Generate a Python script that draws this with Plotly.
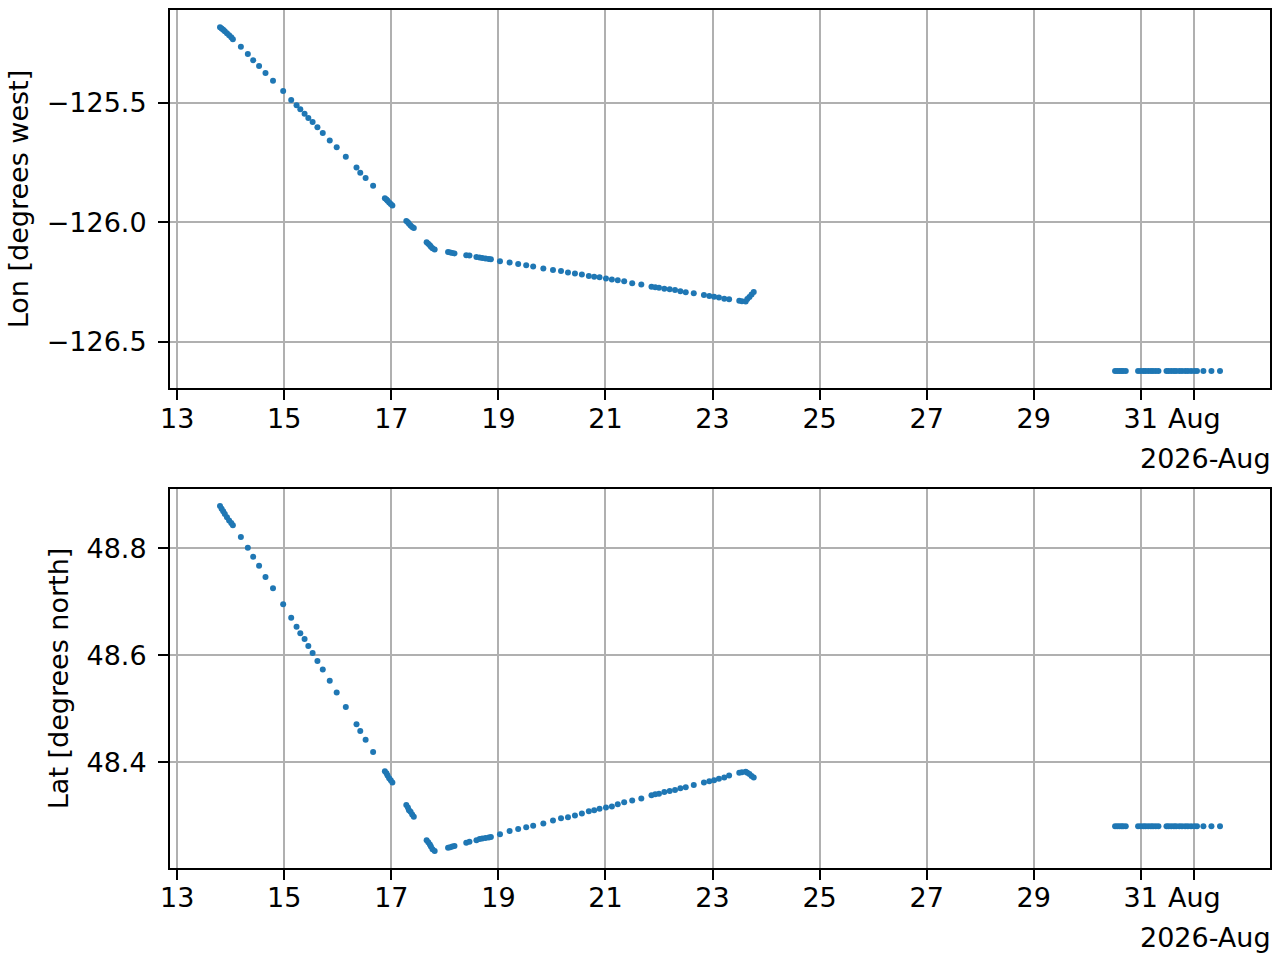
import pandas as pd
import plotly.graph_objects as go

# time as day of August 2026 (fractional)
day = [13.80, 13.83, 13.86, 13.89, 13.93, 13.97, 14.01, 14.04,
       14.19, 14.32, 14.42, 14.53, 14.65, 14.79, 14.98, 15.13, 15.23, 15.30,
       15.38, 15.45, 15.53, 15.62, 15.72, 15.85, 15.98, 16.15, 16.35, 16.42,
       16.52, 16.66,
       16.88, 16.91, 16.93, 16.96, 16.99, 17.02,
       17.28, 17.31, 17.33, 17.36, 17.39, 17.42,
       17.66, 17.69, 17.72, 17.74, 17.77, 17.81,
       18.06, 18.10, 18.14, 18.18,
       18.40, 18.46,
       18.59, 18.65, 18.70, 18.76, 18.82, 18.86,
       19.03, 19.21, 19.37, 19.52, 19.65, 19.84, 20.02, 20.17, 20.30, 20.43,
       20.56, 20.69, 20.79, 20.89, 21.01, 21.12, 21.23, 21.35, 21.50, 21.67,
       21.86, 21.93, 22.00, 22.10, 22.20, 22.30, 22.40, 22.50, 22.65, 22.84,
       22.94, 23.03, 23.12, 23.22, 23.31, 23.50, 23.55, 23.62, 23.65, 23.69,
       23.73, 23.77,
       30.52, 30.56, 30.60, 30.64, 30.67, 30.72, 30.95, 31.00, 31.05, 31.09,
       31.14, 31.19, 31.23, 31.28, 31.33, 31.48, 31.52, 31.57, 31.62, 31.66,
       31.72, 31.77, 31.83, 31.88, 31.94, 32.00, 32.05, 32.17, 32.32, 32.48]

lon = [-125.183, -125.188, -125.194, -125.200, -125.208, -125.217, -125.225, -125.233,
       -125.265, -125.295, -125.321, -125.345, -125.375, -125.407, -125.450, -125.488,
       -125.510, -125.526, -125.545, -125.563, -125.580, -125.602, -125.626, -125.657,
       -125.686, -125.725, -125.770, -125.792, -125.814, -125.847,
       -125.899, -125.904, -125.910, -125.917, -125.923, -125.929,
       -125.994, -126.000, -126.006, -126.013, -126.019, -126.024,
       -126.083, -126.090, -126.096, -126.102, -126.108, -126.114,
       -126.124, -126.126, -126.128, -126.130,
       -126.138, -126.139,
       -126.145, -126.147, -126.149, -126.151, -126.153, -126.155,
       -126.163, -126.168, -126.174, -126.180, -126.185, -126.193, -126.199, -126.204,
       -126.210, -126.214, -126.218, -126.225, -126.228, -126.230, -126.235, -126.239,
       -126.242, -126.247, -126.255, -126.260, -126.270, -126.272, -126.274, -126.278,
       -126.280, -126.283, -126.288, -126.293, -126.297, -126.304, -126.308, -126.311,
       -126.315, -126.320, -126.322, -126.328, -126.330, -126.331, -126.321, -126.313,
       -126.302, -126.292,
       -126.622, -126.622, -126.622, -126.622, -126.622, -126.622, -126.622, -126.622,
       -126.622, -126.622, -126.622, -126.622, -126.622, -126.622, -126.622, -126.622,
       -126.622, -126.622, -126.622, -126.622, -126.622, -126.622, -126.622, -126.622,
       -126.622, -126.622, -126.622, -126.622, -126.622, -126.622]

lat = [48.879, 48.874, 48.869, 48.864, 48.858, 48.852, 48.847, 48.843,
       48.821, 48.801, 48.784, 48.767, 48.746, 48.725, 48.695, 48.670, 48.653, 48.641,
       48.630, 48.617, 48.604, 48.589, 48.573, 48.552, 48.530, 48.503, 48.471, 48.458,
       48.442, 48.419,
       48.383, 48.379, 48.375, 48.370, 48.366, 48.362,
       48.320, 48.315, 48.310, 48.307, 48.302, 48.298,
       48.254, 48.250, 48.246, 48.242, 48.237, 48.234,
       48.240, 48.241, 48.242, 48.243,
       48.249, 48.251,
       48.254, 48.256, 48.257, 48.258, 48.259, 48.260,
       48.265, 48.271, 48.275, 48.278, 48.281, 48.285, 48.291, 48.295, 48.297, 48.300,
       48.304, 48.308, 48.310, 48.313, 48.315, 48.317, 48.321, 48.325, 48.328, 48.332,
       48.338, 48.340, 48.341, 48.344, 48.346, 48.348, 48.351, 48.353, 48.357, 48.362,
       48.364, 48.366, 48.369, 48.371, 48.375, 48.380, 48.381, 48.382, 48.380, 48.378,
       48.374, 48.371,
       48.280, 48.280, 48.280, 48.280, 48.280, 48.280, 48.280, 48.280, 48.280, 48.280,
       48.280, 48.280, 48.280, 48.280, 48.280, 48.280, 48.280, 48.280, 48.280, 48.280,
       48.280, 48.280, 48.280, 48.280, 48.280, 48.280, 48.280, 48.280, 48.280, 48.280]

tick_days = [13, 15, 17, 19, 21, 23, 25, 27, 29, 31, 32]
tick_text = ["13", "15", "17", "19", "21", "23", "25", "27", "29", "31", "Aug"]
offset_label = "2026-Aug"
lon_title = "Lon [degrees west]"
lat_title = "Lat [degrees north]"

base = pd.Timestamp("2026-08-01")


def to_time(d):
    return base + pd.to_timedelta(d - 1, unit="D")


t = [to_time(d) for d in day]
tickvals = [to_time(d) for d in tick_days]
xrange = [to_time(12.866), to_time(33.414)]

BLUE = "#1f77b4"
FONT = dict(family="DejaVu Sans", size=27, color="black")

fig = go.Figure()
fig.add_trace(go.Scatter(x=t, y=lon, mode="markers", xaxis="x", yaxis="y",
                         marker=dict(color=BLUE, size=6, line=dict(width=0)),
                         showlegend=False))
fig.add_trace(go.Scatter(x=t, y=lat, mode="markers", xaxis="x2", yaxis="y2",
                         marker=dict(color=BLUE, size=6, line=dict(width=0)),
                         showlegend=False))

xcommon = dict(type="date", range=xrange, tickvals=tickvals, ticktext=tick_text,
               showgrid=True, gridcolor="#b0b0b0", gridwidth=2,
               showline=True, linecolor="black", linewidth=2, mirror=True,
               ticks="outside", ticklen=10, tickwidth=2, tickcolor="black",
               tickfont=FONT, zeroline=False, ticklabelstandoff=-5)
ycommon = dict(showgrid=True, gridcolor="#b0b0b0", gridwidth=2,
               showline=True, linecolor="black", linewidth=2, mirror=True,
               ticks="outside", ticklen=10, tickwidth=2, tickcolor="black",
               tickfont=FONT, zeroline=False, tickformat=".1f",
               ticklabelstandoff=6)

fig.update_layout(
    width=1280, height=960,
    margin=dict(l=170, r=8, t=8, b=92),
    paper_bgcolor="white", plot_bgcolor="white",
    font=FONT,
    xaxis=dict(domain=[0, 1], anchor="y", **xcommon),
    yaxis=dict(domain=[0.5593, 1.0], anchor="x", range=[-126.694, -125.111],
               tick0=-126.5, dtick=0.5,
               title=dict(text=lon_title, font=FONT, standoff=10), **ycommon),
    xaxis2=dict(domain=[0, 1], anchor="y2", **xcommon),
    yaxis2=dict(domain=[0.0, 0.4419], anchor="x2", range=[48.202, 48.911],
                tick0=48.4, dtick=0.2,
                title=dict(text=lat_title, font=FONT, standoff=10), **ycommon),
    annotations=[
        dict(text=offset_label, xref="paper", yref="paper", x=1.0, y=0.4767,
             xanchor="right", yanchor="middle", showarrow=False, font=FONT,
             xshift=3),
        dict(text=offset_label, xref="paper", yref="paper", x=1.0, y=-0.0814,
             xanchor="right", yanchor="middle", showarrow=False, font=FONT,
             xshift=3),
    ],
)

fig.write_html("out.html",
               config={"displayModeBar": False},
               post_script="document.body.style.margin='0px';"
                           "document.body.style.overflow='hidden';")
